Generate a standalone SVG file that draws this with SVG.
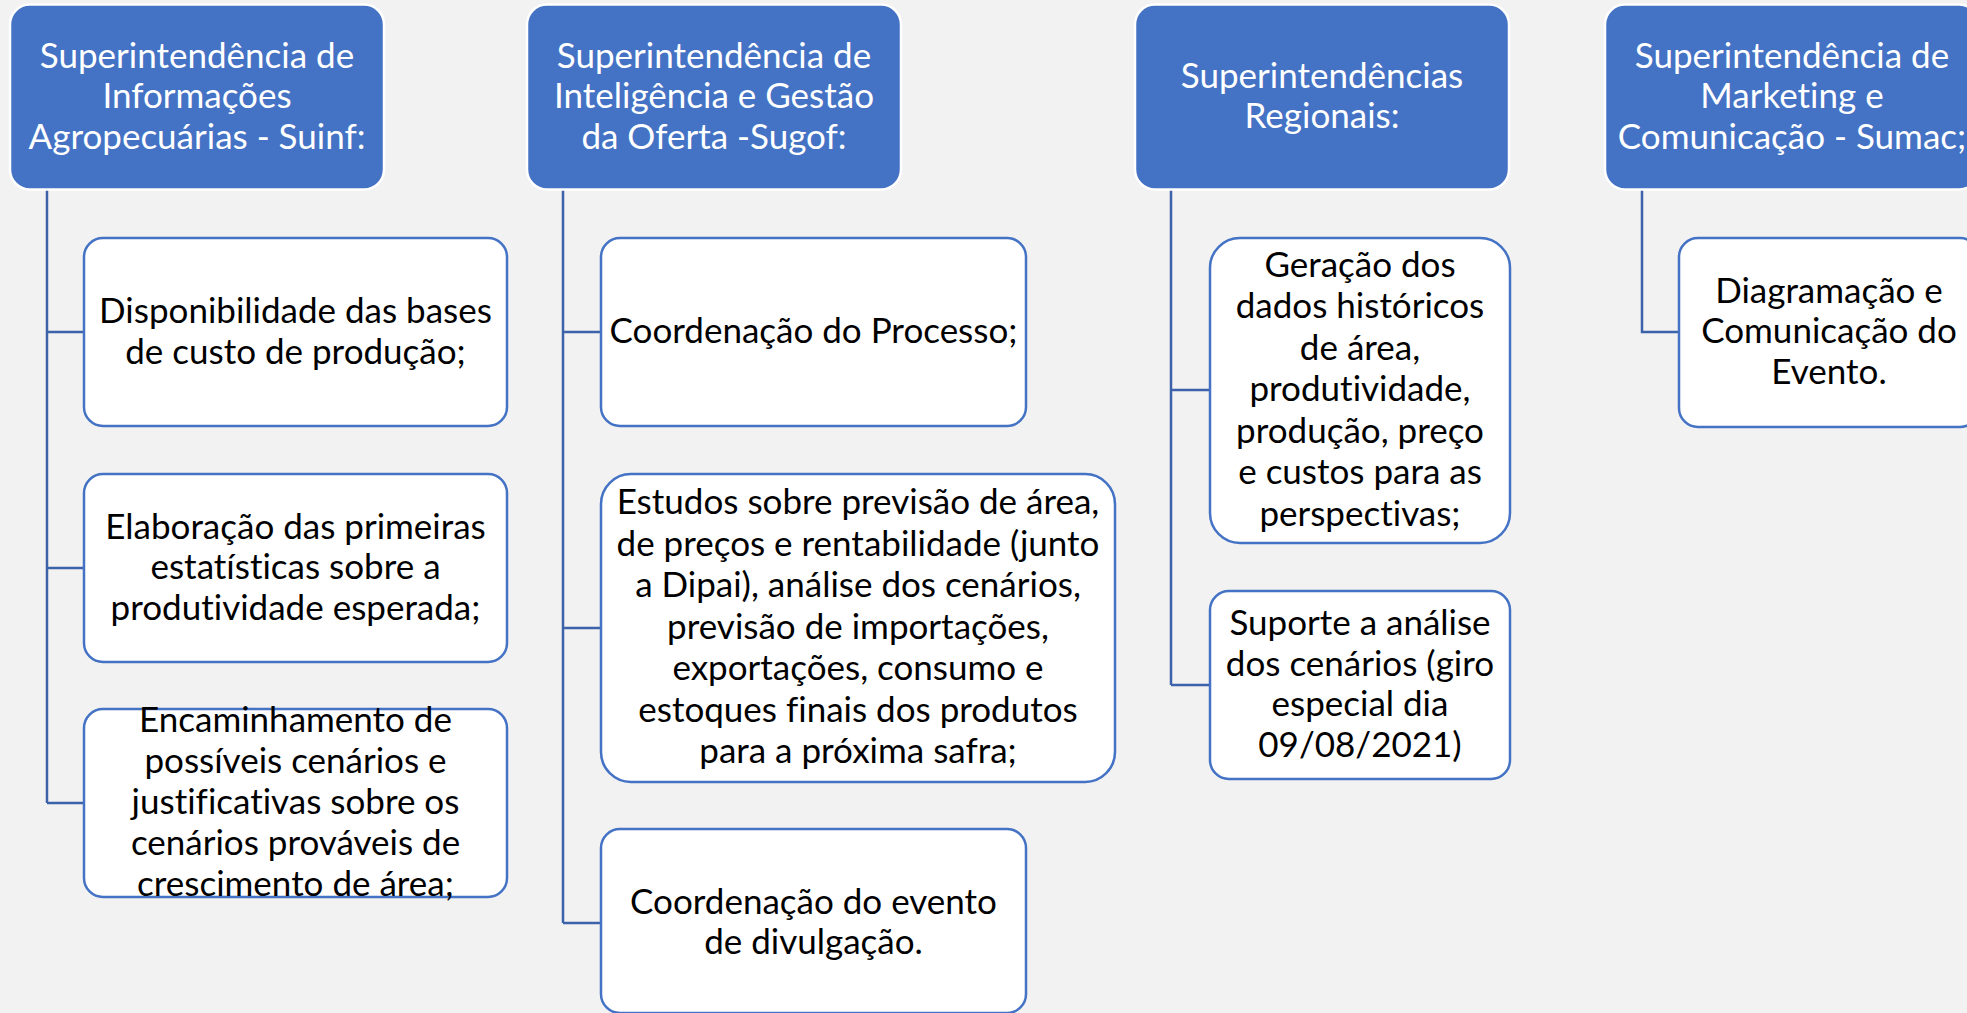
<svg xmlns="http://www.w3.org/2000/svg" width="1967" height="1013" viewBox="0 0 1967 1013">
<style>
.hdr{fill:#4472C4;stroke:#FFFFFF;stroke-width:2.5}
.box{fill:#FFFFFF;stroke:#4472C4;stroke-width:2.5}
.ht{font-family:Lato,"Liberation Sans",sans-serif;font-size:35px;fill:#FFFFFF;text-anchor:middle;font-variant-ligatures:none;font-feature-settings:"liga" 0,"dlig" 0}
.bt{font-family:Lato,"Liberation Sans",sans-serif;font-size:35px;fill:#000000;text-anchor:middle;font-variant-ligatures:none;font-feature-settings:"liga" 0,"dlig" 0}
.con{fill:none;stroke:#3C62AA;stroke-width:2.5}
</style>
<rect x="0" y="0" width="1967" height="1013" fill="#F2F2F2"/>
<g id="connectors">
<path class="con" d="M47,189 V803 M47,332 H84 M47,568 H84 M47,803 H84"/>
<path class="con" d="M563,189 V923 M563,332 H601 M563,628 H601 M563,923 H601"/>
<path class="con" d="M1171,189 V685 M1171,390 H1210 M1171,685 H1210"/>
<path class="con" d="M1642,189 V332 H1679"/>
</g>
<g id="h1"><rect class="hdr" x="10" y="4.5" width="374" height="185" rx="20"/>
<text class="ht"><tspan x="197" y="67.5">Superintendência de</tspan><tspan x="197" y="108">Informações</tspan><tspan x="197" y="148.5">Agropecuárias - Suinf:</tspan></text></g>
<g id="h2"><rect class="hdr" x="527" y="4.5" width="374" height="185" rx="20"/>
<text class="ht"><tspan x="714" y="67.5">Superintendência de</tspan><tspan x="714" y="108">Inteligência e Gestão</tspan><tspan x="714" y="148.5">da Oferta -Sugof:</tspan></text></g>
<g id="h3"><rect class="hdr" x="1135" y="4.5" width="374" height="185" rx="20"/>
<text class="ht"><tspan x="1322" y="87.5">Superintendências</tspan><tspan x="1322" y="128">Regionais:</tspan></text></g>
<g id="h4"><rect class="hdr" x="1605" y="4.5" width="374" height="185" rx="20"/>
<text class="ht"><tspan x="1792" y="67.5">Superintendência de</tspan><tspan x="1792" y="108">Marketing e</tspan><tspan x="1792" y="148.5">Comunicação - Sumac;</tspan></text></g>
<g id="c1a"><rect class="box" x="84" y="238" width="423" height="188" rx="19"/>
<text class="bt"><tspan x="295.5" y="323">Disponibilidade das bases</tspan><tspan x="295.5" y="363.5">de custo de produção;</tspan></text></g>
<g id="c1b"><rect class="box" x="84" y="474" width="423" height="188" rx="19"/>
<text class="bt"><tspan x="295.5" y="538.5">Elaboração das primeiras</tspan><tspan x="295.5" y="579">estatísticas sobre a</tspan><tspan x="295.5" y="619.5">produtividade esperada;</tspan></text></g>
<g id="c1c"><rect class="box" x="84" y="709" width="423" height="188" rx="19"/>
<text class="bt"><tspan x="295.5" y="732">Encaminhamento de</tspan><tspan x="295.5" y="773">possíveis cenários e</tspan><tspan x="295.5" y="814">justificativas sobre os</tspan><tspan x="295.5" y="855">cenários prováveis de</tspan><tspan x="295.5" y="896">crescimento de área;</tspan></text></g>
<g id="c2a"><rect class="box" x="601" y="238" width="425" height="188" rx="19"/>
<text class="bt"><tspan x="813.5" y="343">Coordenação do Processo;</tspan></text></g>
<g id="c2b"><rect class="box" x="601" y="474" width="514" height="308" rx="30"/>
<text class="bt"><tspan x="858" y="514">Estudos sobre previsão de área,</tspan><tspan x="858" y="555.5">de preços e rentabilidade (junto</tspan><tspan x="858" y="597">a Dipai), análise dos cenários,</tspan><tspan x="858" y="638.5">previsão de importações,</tspan><tspan x="858" y="680">exportações, consumo e</tspan><tspan x="858" y="721.5">estoques finais dos produtos</tspan><tspan x="858" y="763">para a próxima safra;</tspan></text></g>
<g id="c2c"><rect class="box" x="601" y="829" width="425" height="184" rx="19"/>
<text class="bt"><tspan x="813.5" y="913.5">Coordenação do evento</tspan><tspan x="813.5" y="954">de divulgação.</tspan></text></g>
<g id="c3a"><rect class="box" x="1210" y="238" width="300" height="305" rx="30"/>
<text class="bt"><tspan x="1360" y="276.5">Geração dos</tspan><tspan x="1360" y="318">dados históricos</tspan><tspan x="1360" y="359.5">de área,</tspan><tspan x="1360" y="401">produtividade,</tspan><tspan x="1360" y="442.5">produção, preço</tspan><tspan x="1360" y="484">e custos para as</tspan><tspan x="1360" y="525.5">perspectivas;</tspan></text></g>
<g id="c3b"><rect class="box" x="1210" y="591" width="300" height="188" rx="19"/>
<text class="bt"><tspan x="1360" y="635">Suporte a análise</tspan><tspan x="1360" y="675.5">dos cenários (giro</tspan><tspan x="1360" y="716">especial dia</tspan><tspan x="1360" y="756.5">09/08/2021)</tspan></text></g>
<g id="c4a"><rect class="box" x="1679" y="238" width="300" height="189" rx="19"/>
<text class="bt"><tspan x="1829" y="302.5">Diagramação e</tspan><tspan x="1829" y="343">Comunicação do</tspan><tspan x="1829" y="383.5">Evento.</tspan></text></g>
</svg>
